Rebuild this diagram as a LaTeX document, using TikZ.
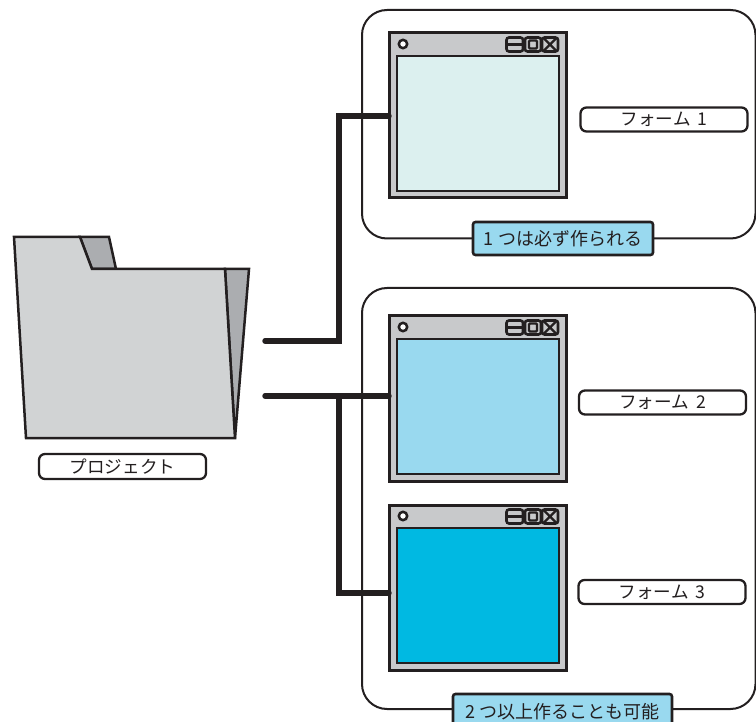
\documentclass[tikz,border=0pt]{standalone}
\usepackage{fontspec}
\setmainfont{Noto Sans CJK JP}
\definecolor{ink}{HTML}{231F20}
\definecolor{panelgray}{HTML}{D1D3D4}
\definecolor{foldgray}{HTML}{ABADB0}
\definecolor{wingray}{HTML}{C8C9CB}
\definecolor{paleform}{HTML}{DCF0EF}
\definecolor{midform}{HTML}{99D9EF}
\definecolor{deepform}{HTML}{00B9E2}
\tikzset{
  every node/.style={inner sep=0pt,outer sep=0pt},
  groupbox/.style={draw=ink,line width=2pt,rounded corners=25pt},
  wire/.style={draw=ink,line width=5.4pt,line cap=round},
  foldpart/.style={draw=ink,line width=2.5pt,line join=miter,fill=panelgray},
  foldshade/.style={draw=ink,line width=2.5pt,line join=miter,fill=foldgray},
  namebox/.style={rectangle,draw=ink,line width=2.3pt,rounded corners=6pt,fill=white,font=\fontsize{17.6}{20}\selectfont,text=ink},
  capbox/.style={rectangle,draw=ink,line width=2.6pt,rounded corners=2.5pt,fill=midform,font=\fontsize{18}{21}\selectfont,text=ink},
  winframe/.style={rectangle,draw=ink,line width=3pt,fill=wingray,minimum width=177pt,minimum height=165pt},
  winbtn/.style={draw=ink,line width=2.6pt,fill=wingray,rounded corners=2.5pt},
}
\newcommand{\formwindow}[3]{% name, top y, colour
  \node[winframe,anchor=north west] (#1) at (389,#2) {};
  \begin{scope}[shift={(389,#2)}]
    \draw[ink,line width=2.6pt,fill=#3] (8,23) rectangle (170,158);
    \draw[ink,line width=2.5pt,fill=white] (14,11) circle (4.2);
    \draw[winbtn] (117.5,4.5) rectangle (134,18.5);
    \draw[ink,line width=3pt] (117.5,11.5) -- (134,11.5);
    \draw[winbtn] (136,4.5) rectangle (152,18.5);
    \draw[ink,line width=2.3pt,rounded corners=1pt] (140,7.5) rectangle (148,15.5);
    \draw[winbtn] (153,4.5) rectangle (169,18.5);
    \draw[ink,line width=2.3pt] (155,5.5) -- (167,17.5) (167,5.5) -- (155,17.5);
  \end{scope}
}
\begin{document}
\begin{tikzpicture}[x=1pt,y=-1pt]
\useasboundingbox (0,0) rectangle (756,722);
\clip (0,0) rectangle (756,722);
% group frames
\draw[groupbox] (362,10) -- (755.5,10) -- (755.5,238.5) -- (362,238.5) -- cycle;
\draw[groupbox] (362,288) -- (755.5,288) -- (755.5,709) -- (362,709) -- cycle;
% folder
\draw[foldshade] (80,237) -- (109,237) -- (116,269) -- (92,269) -- cycle;
\draw[foldshade] (225,269) -- (249,269) -- (235,438) -- cycle;
\draw[foldpart] (14,237) -- (80,237) -- (92,269) -- (225,269) -- (235,438) -- (26,438) -- cycle;
\coordinate (out1) at (265,341);
\coordinate (out2) at (265,396);
\coordinate (bend1) at (339,341);
\coordinate (bend1b) at (339,116);
\coordinate (jn) at (339,396);
\coordinate (bend2) at (339,593);
% windows
\formwindow{w1}{33}{paleform}
\formwindow{w2}{316}{midform}
\formwindow{w3}{505}{deepform}
% connectors
\draw[wire] (out1) -- (bend1) -- (bend1b) -- (w1.west |- bend1b);
\draw[wire] (out2) -- (jn) -- (w2.west |- jn);
\draw[wire] (jn) -- (bend2) -- (w3.west |- bend2);
% labels
\node[namebox,minimum width=167pt,minimum height=25pt] (lp) at (122.5,466.5) {プロジェクト};
\node[namebox,minimum width=167pt,minimum height=24pt] (l1) at (664,119.5) {フォーム\hspace{3pt} 1};
\node[namebox,minimum width=167pt,minimum height=24pt] (l2) at (662.5,402.5) {フォーム\hspace{3pt} 2};
\node[namebox,minimum width=167pt,minimum height=24pt] (l3) at (662,592) {フォーム\hspace{3pt} 3};
\node[capbox,minimum width=180pt,minimum height=33pt] (c1) at (563,238.5) {1 つは必ず作られる};
\node[capbox,minimum width=219pt,minimum height=36pt] (c2) at (562.5,712) {2 つ以上作ることも可能};
\end{tikzpicture}
\end{document}
